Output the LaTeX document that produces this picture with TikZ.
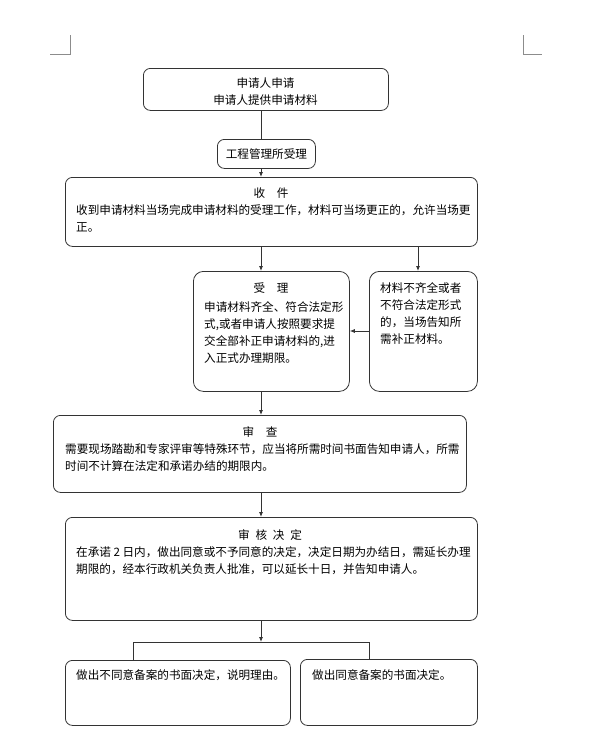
\documentclass[tikz,border=0pt]{standalone}
\usepackage{fontspec}
\setmainfont{Noto Sans CJK SC}
\usetikzlibrary{arrows.meta}
\newcommand\myfs{\fontsize{11.6pt}{17pt}\selectfont}
\begin{document}
\begin{tikzpicture}[x=1pt,y=-1pt,
  box/.style={draw=black!80, line width=0.8pt, rounded corners=7pt, anchor=north west, inner sep=0pt},
  txt/.style={anchor=north west, inner sep=0pt, align=left, font=\myfs},
  ttl/.style={anchor=center, inner sep=0pt, font=\myfs},
  arr/.style={draw=black!80, line width=0.8pt, -{Latex[length=5pt,width=4pt]}},
  ln/.style={draw=black!80, line width=0.8pt},
  crop/.style={draw=black!45, line width=0.8pt}]
\useasboundingbox[fill=white] (0,0) rectangle (600,745);
% crop marks
\draw[crop] (50,54) -- (70,54) -- (70,35);
\draw[crop] (523,35) -- (523,54) -- (542,54);
% boxes
\node[box, minimum width=245pt, minimum height=42pt] (b1) at (143,68) {};
\node[box, minimum width=98pt, minimum height=29pt] (b2) at (217,139) {};
\node[box, minimum width=412pt, minimum height=69pt] (b3) at (65,177) {};
\node[box, rounded corners=10pt, minimum width=156pt, minimum height=120pt] (b4) at (193,271) {};
\node[box, rounded corners=10pt, minimum width=108pt, minimum height=120pt] (b5) at (369,271) {};
\node[box, minimum width=413pt, minimum height=77pt] (b6) at (53,415) {};
\node[box, minimum width=412pt, minimum height=103pt] (b7) at (65,517) {};
\node[box, minimum width=225pt, minimum height=65pt] (b8) at (65,660) {};
\node[box, minimum width=177pt, minimum height=66pt] (b9) at (300,659) {};
% texts
\node[ttl, align=center] (t1) at (265.5,91.5) {申请人申请\\申请人提供申请材料};
\node[ttl] (t2) at (b2.center) {工程管理所受理};
\node[ttl] (t3a) at (271,193) {收　件};
\node[txt] (t3b) at (76,204) {收到申请材料当场完成申请材料的受理工作，材料可当场更正的，允许当场更\\正。};
\node[ttl] (t4a) at (271,288) {受　理};
\node[txt] (t4b) at (204,301) {申请材料齐全、符合法定形\\式,或者申请人按照要求提\\交全部补正申请材料的,进\\入正式办理期限。};
\node[txt] (t5) at (380,282) {材料不齐全或者\\不符合法定形式\\的，当场告知所\\需补正材料。};
\node[ttl] (t6a) at (260,432) {审　查};
\node[txt] (t6b) at (65,443) {需要现场踏勘和专家评审等特殊环节，应当将所需时间书面告知申请人，所需\\时间不计算在法定和承诺办结的期限内。};
\node[ttl] (t7a) at (270,535) {审\hspace{0.5em}核\hspace{0.5em}决\hspace{0.5em}定};
\node[txt] (t7b) at (76,546) {在承诺 2 日内，做出同意或不予同意的决定，决定日期为办结日，需延长办理\\期限的，经本行政机关负责人批准，可以延长十日，并告知申请人。};
\node[txt] (t8) at (76,669) {做出不同意备案的书面决定，说明理由。};
\node[txt] (t9) at (312,669) {做出同意备案的书面决定。};
% connectors
\coordinate (sp) at (261,0);
\coordinate (rx) at (418,0);
\coordinate (my) at (0,331);
\coordinate (bar) at (0,642);
\coordinate (lx) at (133,0);
\coordinate (rx2) at (369,0);
\draw[ln] (b1.south -| sp) -- (b2.north -| sp);
\draw[arr] (b2.south -| sp) -- (b3.north -| sp);
\draw[arr] (b3.south -| sp) -- (b4.north -| sp);
\draw[arr] (b3.south -| rx) -- (b5.north -| rx);
\draw[arr] (b5.west |- my) -- (b4.east |- my);
\draw[arr] (b4.south -| sp) -- (b6.north -| sp);
\draw[arr] (b6.south -| sp) -- (b7.north -| sp);
\draw[arr] (b7.south -| sp) -- (sp |- bar);
\draw[ln] (b8.north -| lx) -- (lx |- bar) -- (rx2 |- bar) -- (b9.north -| rx2);
\end{tikzpicture}
\end{document}
